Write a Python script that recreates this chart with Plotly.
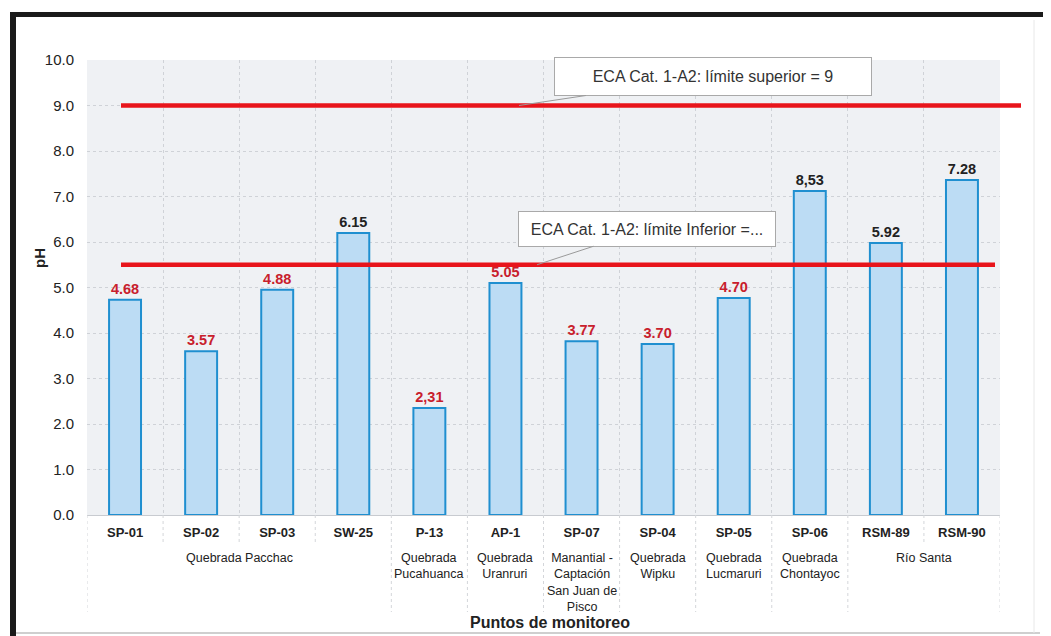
import plotly.graph_objects as go

puntos = ["SP-01", "SP-02", "SP-03", "SW-25", "P-13", "AP-1", "SP-07", "SP-04",
          "SP-05", "SP-06", "RSM-89", "RSM-90"]
ph_barras = [4.73, 3.60, 4.95, 6.20, 2.35, 5.10, 3.82, 3.76, 4.77, 7.12, 5.98, 7.36]
etiquetas = ["4.68", "3.57", "4.88", "6.15", "2,31", "5.05", "3.77", "3.70",
             "4.70", "8,53", "5.92", "7.28"]
color_etiqueta = ["#c8202c"] * 3 + ["#222222"] + ["#c8202c"] * 5 + ["#222222"] * 3

grupos = ["Quebrada Pacchac", "Quebrada<br>Pucahuanca", "Quebrada<br>Uranruri",
          "Manantial -<br>Captación<br>San Juan de<br>Pisco", "Quebrada<br>Wipku",
          "Quebrada<br>Lucmaruri", "Quebrada<br>Chontayoc", "Río Santa"]
grupo_pos = [1.5, 4, 5, 6, 7, 8, 9, 10.5]
limite_superior = 9
limite_inferior = 5.5

FONT = "Liberation Sans, Arial, sans-serif"

fig = go.Figure()
fig.add_trace(go.Bar(
    x=puntos, y=ph_barras, width=0.42,
    marker=dict(color="#bcdcf4", line=dict(color="#1f8fd0", width=2)),
    text=["<b>%s</b>" % t for t in etiquetas], textposition="outside",
    textfont=dict(color=color_etiqueta, size=14.5, family=FONT),
    cliponaxis=False, showlegend=False,
))

# screen-space plot area (page has an 8px body margin)
SL, ST, pw, ph = 87, 60, 913, 455
W, H = 1051, 636
L, T = SL - 8, ST - 8
R, B = W - L - pw, H - T - ph

def px(x):
    return (x - SL) / pw

def py(y):
    return (ST + ph - y) / ph

shapes = []
shapes.append(dict(type="line", xref="paper", yref="y", x0=px(121), x1=px(1021),
                   y0=limite_superior, y1=limite_superior,
                   line=dict(color="#e8141b", width=4.5)))
shapes.append(dict(type="line", xref="paper", yref="y", x0=px(121), x1=px(995),
                   y0=limite_inferior, y1=limite_inferior,
                   line=dict(color="#e8141b", width=4.5)))
n = len(puntos)
largos = {-0.5, 3.5, 4.5, 5.5, 6.5, 7.5, 8.5, 9.5, 11.5}
for i in range(n + 1):
    b = i - 0.5
    y1 = py(612) if b in largos else py(545)
    shapes.append(dict(type="line", xref="x", yref="paper", x0=b, x1=b, y0=0, y1=y1,
                       line=dict(color="#d4d6da", width=1, dash="dot")))
shapes.append(dict(type="line", xref="paper", yref="paper", x0=px(10), x1=px(1060),
                   y0=py(14.5), y1=py(14.5), line=dict(color="#1a1a1a", width=5)))
shapes.append(dict(type="line", xref="paper", yref="paper", x0=px(13), x1=px(13),
                   y0=py(12), y1=py(645), line=dict(color="#1a1a1a", width=6)))
shapes.append(dict(type="line", xref="paper", yref="paper", x0=px(16), x1=px(1040),
                   y0=py(633), y1=py(633), line=dict(color="#cfcfcf", width=2)))
shapes.append(dict(type="line", xref="paper", yref="paper", x0=px(1034), x1=px(1034),
                   y0=py(20), y1=py(633), line=dict(color="#e8e8e8", width=1)))

annotations = []
for g, p in zip(grupos, grupo_pos):
    annotations.append(dict(x=p, y=py(549), xref="x", yref="paper", text=g,
                            showarrow=False, xanchor="center", yanchor="top",
                            font=dict(size=12.5, color="#222", family=FONT)))
annotations.append(dict(x=px(550), y=py(622), xref="paper", yref="paper",
                        text="<b>Puntos de monitoreo</b>", showarrow=False,
                        xanchor="center", yanchor="middle",
                        font=dict(size=16, color="#222", family=FONT)))
annotations.append(dict(x=px(39), y=py(258), xref="paper", yref="paper",
                        text="<b>pH</b>", showarrow=False, textangle=-90,
                        xanchor="center", yanchor="middle",
                        font=dict(size=15, color="#222", family=FONT)))
annotations.append(dict(x=px(519), y=limite_superior, xref="paper", yref="y",
                        text="ECA Cat. 1-A2: límite superior = 9",
                        showarrow=True, arrowhead=0, arrowwidth=1, arrowcolor="#9a9a9a",
                        ax=194, ay=-29, bgcolor="white", bordercolor="#a9a9a9",
                        borderwidth=1, borderpad=4, width=308, height=29,
                        font=dict(size=16, color="#333", family=FONT)))
annotations.append(dict(x=px(537), y=limite_inferior, xref="paper", yref="y",
                        text="ECA Cat. 1-A2: límite Inferior =...",
                        showarrow=True, arrowhead=0, arrowwidth=1, arrowcolor="#9a9a9a",
                        ax=110, ay=-36, bgcolor="white", bordercolor="#a9a9a9",
                        borderwidth=1, borderpad=4, width=248, height=26,
                        font=dict(size=16, color="#333", family=FONT)))

fig.update_layout(
    width=W, height=H,
    margin=dict(l=L, r=R, t=T, b=B, autoexpand=False),
    paper_bgcolor="white", plot_bgcolor="#eff1f4",
    font=dict(family=FONT, color="#222"),
    shapes=shapes, annotations=annotations,
)
fig.update_xaxes(
    type="category", tickson="boundaries", ticks="", showgrid=True,
    gridcolor="#cfd2d7", griddash="dot", gridwidth=1,
    tickvals=puntos, ticktext=["<b>%s</b>" % p for p in puntos],
    tickfont=dict(size=13, color="#222", family=FONT), ticklabelstandoff=8,
    showline=False, zeroline=False, range=[-0.5, n - 0.5], automargin=False,
)
fig.update_yaxes(
    range=[0, 10], dtick=1, tickformat=".1f", showgrid=True,
    gridcolor="#cfd2d7", griddash="dot", gridwidth=1,
    tickfont=dict(size=15, color="#222", family=FONT), ticks="", ticklabelstandoff=12,
    zeroline=True, zerolinecolor="#c8cbd0", zerolinewidth=1, showline=False,
    automargin=False,
)

fig.write_html("out.html")
